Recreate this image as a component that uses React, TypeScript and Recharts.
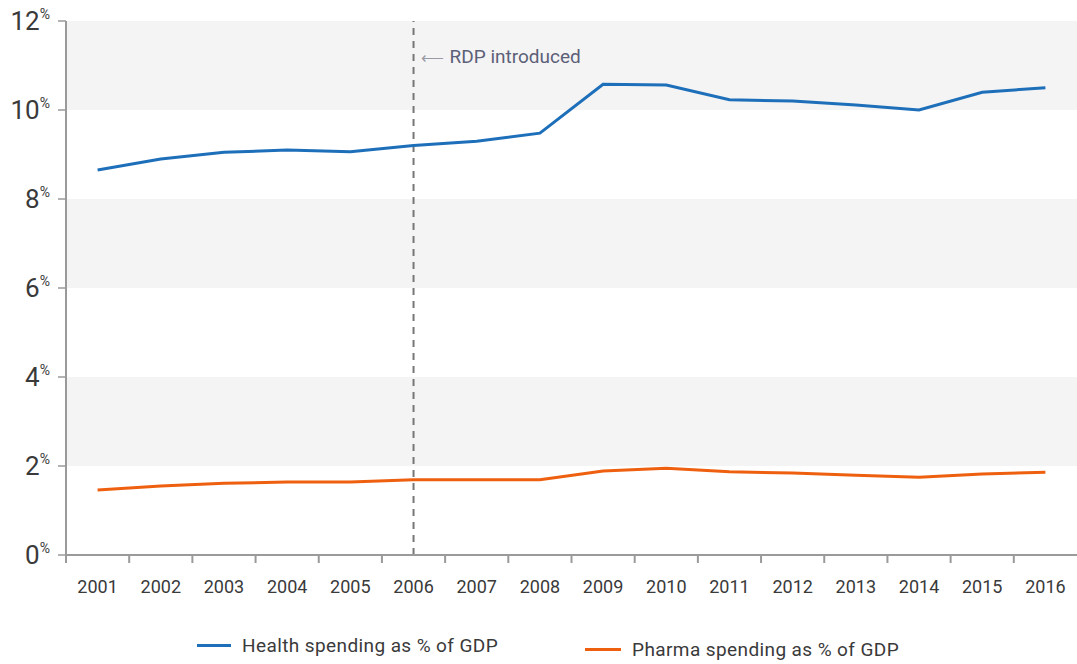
import React from 'react';
import { LineChart, Line, XAxis, YAxis, ReferenceArea, ReferenceLine } from 'recharts';

const years = ['2001', '2002', '2003', '2004', '2005', '2006', '2007', '2008', '2009', '2010', '2011', '2012', '2013', '2014', '2015', '2016'];
const healthSpending = [8.65, 8.9, 9.05, 9.1, 9.06, 9.2, 9.3, 9.48, 10.58, 10.56, 10.23, 10.2, 10.11, 10.0, 10.4, 10.5];
const pharmaSpending = [1.46, 1.55, 1.61, 1.64, 1.64, 1.69, 1.69, 1.69, 1.89, 1.95, 1.87, 1.84, 1.79, 1.75, 1.82, 1.86];
const yTicks = [0, 2, 4, 6, 8, 10, 12];
const shadedBands = [[10, 12], [6, 8], [2, 4]];

const BLUE = '#1e6fba';
const ORANGE = '#ee600f';
const AXIS = '#9a9a9a';
const FONT = 'Roboto, "Noto Sans", sans-serif';
const BAND = (1077 - 66) / years.length;

const data = years.map((year, i) => ({
  year,
  health: healthSpending[i],
  pharma: pharmaSpending[i]
}));

function PercentTick({ x, y, payload }: any) {
  return (
    <text x={x} y={y} dy={9} textAnchor="end" fill="#3a3a3a" fontFamily={FONT}>
      <tspan fontSize={26}>{payload.value}</tspan>
      <tspan fontSize={14} dy={-11}>%</tspan>
    </text>
  );
}

// tick marks sit on the band boundaries, labels in the middle
function YearTick({ x, y, payload }: any) {
  const left = x - BAND / 2;
  return (
    <g>
      <line x1={left} x2={left} y1={y} y2={y + 8} stroke={AXIS} strokeWidth={2} />
      <text x={x} y={y + 38} textAnchor="middle" fill="#3a3a3a" fontSize={18} fontFamily={FONT}>
        {payload.value}
      </text>
    </g>
  );
}

function RdpLabel({ viewBox }: any) {
  return (
    <text x={viewBox.x + 7} y={viewBox.y + 42} fontFamily={FONT}>
      <tspan fill="#9a9aa6" fontSize={16}>⟵</tspan>
      <tspan fill="#5c6078" fontSize={19} dx={6}>RDP introduced</tspan>
    </text>
  );
}

export default function App() {
  return (
    <div style={{ position: 'absolute', left: 0, top: 0, width: 1077, height: 664, background: '#fff' }}>
      <LineChart
        width={1077}
        height={600}
        data={data}
        margin={{ top: 21, right: 0, left: 0, bottom: 0 }}
      >
        {shadedBands.map(([y1, y2]) => (
          <ReferenceArea key={y1} y1={y1} y2={y2} fill="#f4f4f4" fillOpacity={1} stroke="none" />
        ))}
        <XAxis
          dataKey="year"
          scale="band"
          height={45}
          axisLine={{ stroke: AXIS, strokeWidth: 2 }}
          tickLine={false}
          tickSize={0}
          tickMargin={0}
          interval={0}
          tick={<YearTick />}
        />
        <YAxis
          domain={[0, 12]}
          ticks={yTicks}
          width={66}
          axisLine={{ stroke: AXIS, strokeWidth: 2 }}
          tickLine={{ stroke: AXIS, strokeWidth: 1.5 }}
          tickSize={8}
          tickMargin={8}
          tick={<PercentTick />}
        />
        <ReferenceLine x="2006" stroke="#777" strokeWidth={2} strokeDasharray="7 6" label={<RdpLabel />} />
        <Line type="linear" dataKey="health" stroke={BLUE} strokeWidth={3} dot={false} isAnimationActive={false} />
        <Line type="linear" dataKey="pharma" stroke={ORANGE} strokeWidth={3} dot={false} isAnimationActive={false} />
      </LineChart>
      <div style={{ position: 'absolute', left: 197, top: 634, display: 'flex', alignItems: 'center', fontFamily: FONT, fontSize: 19, color: '#3a3a3a', letterSpacing: 0.4 }}>
        <span style={{ display: 'inline-block', width: 34, height: 3, background: BLUE, marginRight: 11 }} />
        Health spending as % of GDP
      </div>
      <div style={{ position: 'absolute', left: 585, top: 638, display: 'flex', alignItems: 'center', fontFamily: FONT, fontSize: 19, color: '#3a3a3a', letterSpacing: 0.4 }}>
        <span style={{ display: 'inline-block', width: 36, height: 3, background: ORANGE, marginRight: 11 }} />
        Pharma spending as % of GDP
      </div>
    </div>
  );
}
